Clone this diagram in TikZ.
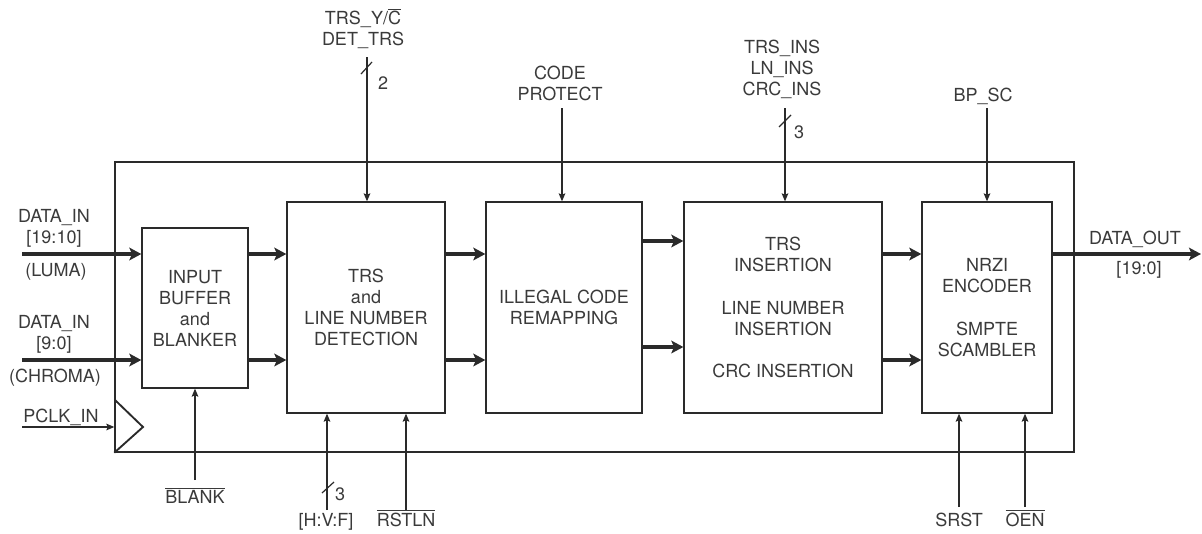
\documentclass[tikz,border=0pt]{standalone}
\usepackage{fontspec}
\setmainfont{TeX Gyre Heros}
\usetikzlibrary{arrows.meta,positioning}

\definecolor{ink}{HTML}{2A2A2A}
\definecolor{inktext}{HTML}{3A3A3A}
\def \fs {\fontsize{13.5}{15.75}\selectfont}

\tikzset{
  blk/.style={draw=ink, line width=1pt, text=inktext, align=center, font=\fs, minimum height=211*0.75pt},
  sig/.style={draw=ink, line width=0.9pt, -{Stealth[length=6pt,width=5pt,inset=1pt]}},
  bus/.style={draw=ink, line width=2.4pt, -{Stealth[length=9pt,width=9.5pt,inset=2pt]}},
  lbl/.style={text=inktext, font=\fs, align=center, inner sep=0pt},
  tick/.style={draw=ink, line width=0.9pt},
}

\begin{document}
\begin{tikzpicture}[x=0.75pt,y=-0.75pt]
      \useasboundingbox (0,0) rectangle (1202,533);
      %blocks
      \node[draw=ink, line width=1pt, minimum width=959*0.75pt, minimum height=290*0.75pt] (chip) at (594.5,307) {};
      \node[blk, minimum width=106*0.75pt, minimum height=160*0.75pt] (inbuf) at (195,308) {INPUT\\BUFFER\\and\\BLANKER};
      \node[blk, minimum width=158*0.75pt] (trsdet) at (366,307.5) {TRS\\and\\LINE NUMBER\\DETECTION};
      \node[blk, minimum width=156*0.75pt] (remap) at (564,307.5) {ILLEGAL CODE\\REMAPPING};
      \node[blk, minimum width=198*0.75pt] (trsins) at (783,307.5) {TRS\\INSERTION\\[16pt]LINE NUMBER\\INSERTION\\[16pt]CRC INSERTION};
      \node[blk, minimum width=130*0.75pt] (nrzi) at (987,307.5) {NRZI\\ENCODER\\[16pt]SMPTE\\SCAMBLER};
      %clock
      \coordinate (clk) at (143,427);
      \draw[ink, line width=1.4pt] (115,400) -- (clk) -- (chip.south west);
      %inputs left
      \coordinate (lumaL) at (22,254); \coordinate (chromaL) at (22,360); \coordinate (pclkL) at (22,427);
      \node[lbl] (lumalbl) at (54,228) {DATA\_IN\\{}[19:10]};
      \node[lbl] (lumanm) at (56,272) {(LUMA)};
      \node[lbl] (chromalbl) at (54,334) {DATA\_IN\\{}[9:0]};
      \node[lbl] (chromanm) at (55,378) {(CHROMA)};
      \node[lbl] (pclklbl) at (61,417) {PCLK\_IN};
      \draw[bus] (lumaL) -- (lumaL -| inbuf.west);
      \draw[bus] (chromaL) -- (chromaL -| inbuf.west);
      \draw[sig] (pclkL) -- (pclkL -| chip.west);
      %data path
      \draw[bus] (inbuf.east |- lumaL) -- (trsdet.west |- lumaL);
      \draw[bus] (inbuf.east |- chromaL) -- (trsdet.west |- chromaL);
      \draw[bus] (trsdet.east |- lumaL) -- (remap.west |- lumaL);
      \draw[bus] (trsdet.east |- chromaL) -- (remap.west |- chromaL);
      \coordinate (midA) at (0,241); \coordinate (midB) at (0,347);
      \draw[bus] (remap.east |- midA) -- (trsins.west |- midA);
      \draw[bus] (remap.east |- midB) -- (trsins.west |- midB);
      \draw[bus] (trsins.east |- lumaL) -- (nrzi.west |- lumaL);
      \draw[bus] (trsins.east |- chromaL) -- (nrzi.west |- chromaL);
      %output
      \coordinate (outR) at (1201,254);
      \draw[bus] (nrzi.east |- outR) -- (outR);
      \node[lbl] (outlbl) at (1135,239) {DATA\_OUT};
      \node[lbl] (outbits) at (1139,270) {[19:0]};
      %inputs top
      \coordinate (trsT) at (367,57); \coordinate (codeT) at (562,108);
      \coordinate (insT) at (785,108); \coordinate (bpT) at (987,108);
      \node[lbl] (trslbl) at (363,29) {TRS\_Y/$\overline{\hbox{C}}$\\DET\_TRS};
      \node[lbl] (codelbl) at (560,83) {CODE\\PROTECT};
      \node[lbl] (inslbl) at (782,69) {TRS\_INS\\LN\_INS\\CRC\_INS};
      \node[lbl] (bplbl) at (983,96) {BP\_SC};
      \draw[sig] (trsT) -- (trsT |- trsdet.north);
      \draw[sig] (codeT) -- (codeT |- remap.north);
      \draw[sig] (insT) -- (insT |- trsins.north);
      \draw[sig] (bpT) -- (bpT |- nrzi.north);
      \draw[tick] (361,74) -- ++(11,-12); \node[lbl] (trsw) at (383,83) {2};
      \draw[tick] (779,127) -- ++(12,-12); \node[lbl] (insw) at (799,132) {3};
      %inputs bottom
      \coordinate (blankB) at (195,480); \coordinate (hvfB) at (327,510);
      \coordinate (rstB) at (406,510); \coordinate (srstB) at (959,507); \coordinate (oenB) at (1025,507);
      \draw[sig] (blankB) -- (blankB |- inbuf.south);
      \draw[sig] (hvfB) -- (hvfB |- trsdet.south);
      \draw[sig] (rstB) -- (rstB |- trsdet.south);
      \draw[sig] (srstB) -- (srstB |- nrzi.south);
      \draw[sig] (oenB) -- (oenB |- nrzi.south);
      \draw[tick] (322,493) -- ++(12,-11); \node[lbl] (hvfw) at (340,494) {3};
      \node[lbl, anchor=base] (blanklbl) at (195,503) {$\overline{\hbox{BLANK}}$};
      \node[lbl, anchor=base] (hvflbl) at (326,526) {[H:V:F]};
      \node[lbl, anchor=base] (rstlbl) at (406,526) {$\overline{\hbox{RSTLN}}$};
      \node[lbl, anchor=base] (srstlbl) at (959,526) {SRST};
      \node[lbl, anchor=base] (oenlbl) at (1025,526) {$\overline{\hbox{OEN}}$};
\end{tikzpicture}
\end{document}
